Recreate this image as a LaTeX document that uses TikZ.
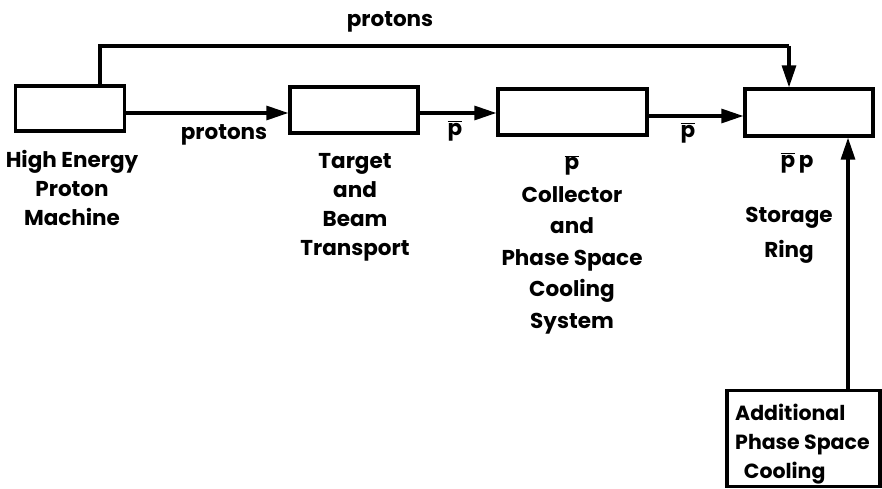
\documentclass[tikz,border=0pt]{standalone}
\usepackage{fontspec}
\setmainfont{Poppins}[BoldFont={Poppins Bold}]
\usetikzlibrary{arrows.meta}
\newcommand{\pbar}{$\overline{\hbox{p}}$}
\begin{document}
\begin{tikzpicture}[x=1pt,y=-1pt,
  blk/.style={draw,line width=3.3pt,rectangle,inner sep=0pt},
  lbl/.style={font=\bfseries\fontsize{21.5}{29}\selectfont,align=center,inner sep=0pt},
  arr/.style={line width=3.1pt,-{Triangle[length=22pt,width=14pt]}},
  ln/.style={line width=3.1pt}]
\path[use as bounding box] (0,0) rectangle (882,489);
% boxes
\node[blk,minimum width=109pt,minimum height=45pt] (hep) at (70,108.5) {};
\node[blk,minimum width=128pt,minimum height=46pt] (tgt) at (354,110) {};
\node[blk,minimum width=149pt,minimum height=46pt] (col) at (572.5,112) {};
\node[blk,minimum width=128pt,minimum height=47pt] (sto) at (809,112.5) {};
\node[blk,minimum width=153pt,minimum height=96pt] (add) at (803.5,438.5) {};
% connectors
\coordinate (tl) at (100,46);
\coordinate (tr) at (789,46);
\draw[ln] (hep.north -| tl) -- (tl) -- (tr);
\draw[arr] (tr) -- (tr |- sto.north);
\draw[arr] (hep.east |- 0,113) -- (tgt.west |- 0,113);
\draw[arr] (tgt.east |- 0,113) -- (col.west |- 0,113);
\draw[arr] (col.east |- 0,116) -- (sto.west |- 0,116);
\coordinate (ax) at (848,0);
\draw[arr] (add.north -| ax) -- (sto.south -| ax);
% labels
\node[lbl] (ptop) at (390,22) {protons};
\node[lbl] (pbot) at (224,135) {protons};
\node[lbl] (pb1) at (455,131) {\pbar};
\node[lbl] (pb2) at (688,133) {\pbar};
\node[lbl,anchor=north] (t1) at (72,150) {High Energy\\Proton\\Machine};
\node[lbl,anchor=north] (t2) at (355,153) {Target\\and\\Beam\\Transport};
\node[lbl,anchor=north,text depth=0pt] (t3a) at (572,155) {\pbar};
\node[lbl,anchor=north,font=\bfseries\fontsize{21.5}{31.5}\selectfont] (t3) at (572,186) {Collector\\and\\Phase Space\\Cooling\\System};
\node[lbl] (t4a) at (797,163) {\pbar\,p};
\node[lbl,anchor=north,font=\bfseries\fontsize{21.5}{35}\selectfont] (t4) at (789,207) {Storage\\Ring};
\node[lbl,anchor=north west,align=left,font=\bfseries\fontsize{20.5}{29}\selectfont] (t5) at (735,404) {Additional\\Phase Space\\\ \ Cooling};
\end{tikzpicture}
\end{document}
